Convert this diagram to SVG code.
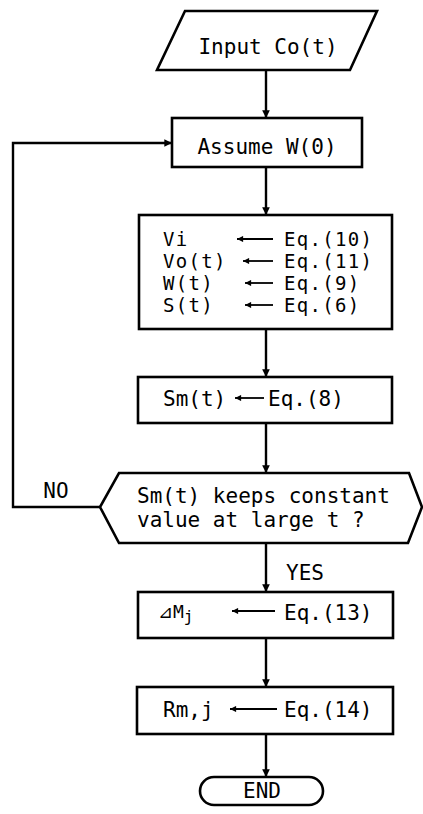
<svg xmlns="http://www.w3.org/2000/svg" width="423" height="814" viewBox="0 0 423 814">
  <defs>
    <marker id="arr" viewBox="0 0 10 10" refX="10" refY="5" markerWidth="3.2" markerHeight="4" orient="auto" markerUnits="strokeWidth">
      <path d="M0,0 L10,5 L0,10 z" fill="#000"/>
    </marker>
    <marker id="arrs" viewBox="0 0 10 10" refX="10" refY="5" markerWidth="5" markerHeight="3.4" orient="auto" markerUnits="strokeWidth">
      <path d="M0,0 L10,5 L0,10 z" fill="#000"/>
    </marker>
  </defs>
  <style>
    .shape { fill: #fff; stroke: #000; stroke-width: 2.6; stroke-linejoin: miter; }
    .conn { fill: none; stroke: #000; stroke-width: 2.4; }
    .eqarr { fill: none; stroke: #000; stroke-width: 1.8; }
    text { font-family: "DejaVu Sans Mono", "Liberation Mono", monospace; font-size: 21px; fill: #000; }
    .tight { font-size: 19px; letter-spacing: 1.3px; }
    .mid { text-anchor: middle; }
  </style>
  <rect width="423" height="814" fill="#fff"/>

  <g id="connectors">
    <line class="conn" x1="266" y1="70" x2="266" y2="118" marker-end="url(#arr)"/>
    <line class="conn" x1="266" y1="167" x2="266" y2="215" marker-end="url(#arr)"/>
    <line class="conn" x1="266" y1="329" x2="266" y2="377" marker-end="url(#arr)"/>
    <line class="conn" x1="266" y1="423" x2="266" y2="473" marker-end="url(#arr)"/>
    <line class="conn" x1="266" y1="543" x2="266" y2="592" marker-end="url(#arr)"/>
    <line class="conn" x1="266" y1="638" x2="266" y2="687" marker-end="url(#arr)"/>
    <line class="conn" x1="266" y1="734" x2="266" y2="777" marker-end="url(#arr)"/>
    <polyline class="conn" points="100,507 13,507 13,143 172,143" marker-end="url(#arr)"/>
    <text x="56" y="498" class="mid">NO</text>
    <text x="286" y="580">YES</text>
  </g>

  <g id="input">
    <polygon class="shape" points="185,11 377,11 350,70 157,70"/>
    <text x="268" y="54" class="mid">Input Co(t)</text>
  </g>

  <g id="assume">
    <rect class="shape" x="172" y="118" width="190" height="49"/>
    <text x="267" y="154" class="mid">Assume W(0)</text>
  </g>

  <g id="compute">
    <rect class="shape" x="139" y="215" width="253" height="114"/>
    <text x="163" y="246" class="tight">Vi</text>
    <text x="163" y="268" class="tight">Vo(t)</text>
    <text x="163" y="290" class="tight">W(t)</text>
    <text x="163" y="312" class="tight">S(t)</text>
    <line class="eqarr" x1="273" y1="239" x2="237" y2="239" marker-end="url(#arrs)"/>
    <line class="eqarr" x1="273" y1="261" x2="243" y2="261" marker-end="url(#arrs)"/>
    <line class="eqarr" x1="273" y1="283" x2="245" y2="283" marker-end="url(#arrs)"/>
    <line class="eqarr" x1="273" y1="305" x2="245" y2="305" marker-end="url(#arrs)"/>
    <text x="284" y="246" class="tight">Eq.(10)</text>
    <text x="284" y="268" class="tight">Eq.(11)</text>
    <text x="284" y="290" class="tight">Eq.(9)</text>
    <text x="284" y="312" class="tight">Eq.(6)</text>
  </g>

  <g id="sm">
    <rect class="shape" x="138" y="377" width="254" height="46"/>
    <text x="163" y="406">Sm(t)</text>
    <line class="eqarr" x1="264" y1="398" x2="235" y2="398" marker-end="url(#arrs)"/>
    <text x="268" y="406">Eq.(8)</text>
  </g>

  <g id="decision">
    <polygon class="shape" points="119,473 409,473 422,507 408,543 119,543 100,507"/>
    <text x="137" y="503">Sm(t) keeps constant</text>
    <text x="137" y="527">value at large t ?</text>
  </g>

  <g id="deltaM">
    <rect class="shape" x="138" y="592" width="255" height="46"/>
    <text x="158" y="618" style="font-size:18px">⊿M<tspan dy="4" style="font-size:16px">j</tspan></text>
    <line class="eqarr" x1="275" y1="611" x2="232" y2="611" marker-end="url(#arrs)"/>
    <text x="284" y="620">Eq.(13)</text>
  </g>

  <g id="rm">
    <rect class="shape" x="137" y="687" width="256" height="47"/>
    <text x="163" y="717">Rm,j</text>
    <line class="eqarr" x1="277" y1="709" x2="230" y2="709" marker-end="url(#arrs)"/>
    <text x="284" y="717">Eq.(14)</text>
  </g>

  <g id="end">
    <rect class="shape" x="200" y="777" width="123" height="28" rx="14" ry="14"/>
    <text x="262" y="798" class="mid">END</text>
  </g>
</svg>
